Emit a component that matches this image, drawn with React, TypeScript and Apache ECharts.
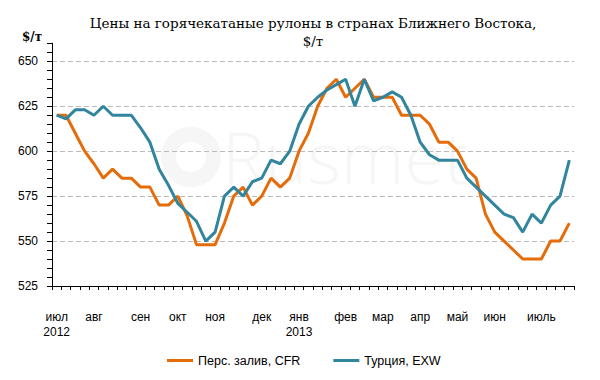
import React, { useEffect, useRef } from "react";
import * as echarts from "echarts";

const monthLabels = ["июл", "авг", "сен", "окт", "ноя", "дек", "янв", "фев", "мар", "апр", "май", "июн", "июль"];
const monthIndex = [0, 4, 9, 13, 17, 22, 26, 31, 35, 39, 43, 47, 52];
const yearLabels = ["2012", "2013"];
const yearIndex = [0, 26];

const gulfCFR = [
  620, 620, 610, 600, 593, 585, 590, 585, 585, 580, 580, 570, 570, 575, 564, 548,
  548, 548, 560, 575, 580, 570, 575, 585, 580, 585, 600, 610, 625, 635, 640, 630,
  635, 640, 630, 630, 630, 620, 620, 620, 615, 605, 605, 600, 590, 585, 565, 555,
  550, 545, 540, 540, 540, 550, 550, 560,
];
const turkeyEXW = [
  620, 618, 623, 623, 620, 625, 620, 620, 620, 613, 605, 590, 581, 571, 566, 561,
  550, 555, 575, 580, 575, 583, 585, 595, 593, 600, 615, 625, 630, 634, 637, 640,
  625, 640, 628, 630, 633, 630, 620, 605, 598, 595, 595, 595, 585, 580, 575, 570,
  565, 563, 555, 565, 560, 570, 575, 595,
];
const seriesNames = ["Перс. залив, CFR", "Турция, EXW"];
const yMin = 525;
const yMax = 660;
const yLabelStep = 25;
const yLabelTop = 650;

const SANS = "'Liberation Sans', Arial, sans-serif";
const SERIF = "'DejaVu Serif', serif";

export default function App() {
  const ref = useRef<HTMLDivElement>(null);
  useEffect(() => {
    document.body.style.margin = "0";
    if (!ref.current) return;
    const chart = echarts.init(ref.current, null, { renderer: "svg" });
    const categories = gulfCFR.map((_, i) => {
      const m = monthIndex.indexOf(i);
      const y = yearIndex.indexOf(i);
      let s = m >= 0 ? monthLabels[m] : "";
      if (y >= 0) s += "\n" + yearLabels[y];
      return s;
    });
    chart.setOption({
      animation: false,
      backgroundColor: "#ffffff",
      title: {
        text: "Цены на горячекатаные рулоны в странах Ближнего Востока,\n$/т",
        left: 308,
        top: 9,
        textAlign: "center",
        textStyle: {
          fontFamily: SERIF,
          fontSize: 13.5,
          fontWeight: "normal",
          color: "#000",
          lineHeight: 18,
        },
      },
      graphic: [
        {
          type: "ring",
          z: -10,
          silent: true,
          shape: { cx: 191, cy: 157, r: 30, r0: 15 },
          style: { fill: "#f6f6f6" },
        },
        {
          type: "text",
          z: -10,
          silent: true,
          x: 222,
          y: 156,
          style: {
            text: "Rusmet",
            fill: "#f6f6f6",
            font: "300 72px 'Open Sans', sans-serif",
            verticalAlign: "middle",
          },
        },
        {
          type: "text",
          x: 32,
          y: 37,
          style: {
            text: "$/т",
            fill: "#000",
            font: "bold 12px " + SERIF,
            align: "center",
            verticalAlign: "middle",
          },
        },
      ],
      legend: {
        left: 162,
        top: 349,
        icon: "rect",
        itemWidth: 26,
        itemHeight: 3,
        itemGap: 33,
        textStyle: { fontFamily: SANS, fontSize: 12.5, color: "#000" },
        data: seriesNames,
      },
      grid: { left: 52, right: 26, top: 43.3, bottom: 94, containLabel: false },
      xAxis: {
        type: "category",
        data: categories,
        boundaryGap: true,
        axisLine: { show: true, lineStyle: { color: "#000", width: 1 } },
        axisTick: { show: true, interval: 0, length: 4, lineStyle: { color: "#000" } },
        axisLabel: {
          interval: 0,
          margin: 23,
          fontFamily: SANS,
          fontSize: 12,
          lineHeight: 15.5,
          color: "#000",
        },
        splitLine: { show: false },
      },
      yAxis: [
        {
          type: "value",
          min: yMin,
          max: yMax,
          interval: 5,
          axisLine: { show: true, lineStyle: { color: "#000", width: 1 } },
          axisTick: { show: true, length: 5, lineStyle: { color: "#000" } },
          axisLabel: {
            margin: 14,
            fontFamily: SANS,
            fontSize: 12,
            color: "#000",
            formatter: (v: number) =>
              (v - yMin) % yLabelStep === 0 && v <= yLabelTop ? String(v) : "",
          },
          splitLine: { show: false },
        },
        {
          type: "value",
          min: yMin,
          max: yMax,
          interval: yLabelStep,
          position: "left",
          axisLine: { show: false },
          axisTick: { show: false },
          axisLabel: { show: false },
          splitLine: {
            show: true,
            showMinLine: false,
            showMaxLine: false,
            lineStyle: { color: "#bbbbbb", type: [5, 3], width: 1 },
          },
        },
      ],
      series: [
        {
          name: seriesNames[0],
          type: "line",
          data: gulfCFR,
          yAxisIndex: 0,
          symbol: "none",
          color: "#E46C0A",
          lineStyle: { width: 3, color: "#E46C0A" },
          z: 3,
        },
        {
          name: seriesNames[1],
          type: "line",
          data: turkeyEXW,
          yAxisIndex: 0,
          symbol: "none",
          color: "#31859C",
          lineStyle: { width: 3, color: "#31859C" },
          z: 3,
        },
      ],
    });
    return () => chart.dispose();
  }, []);
  return <div ref={ref} style={{ width: 600, height: 380 }} />;
}
